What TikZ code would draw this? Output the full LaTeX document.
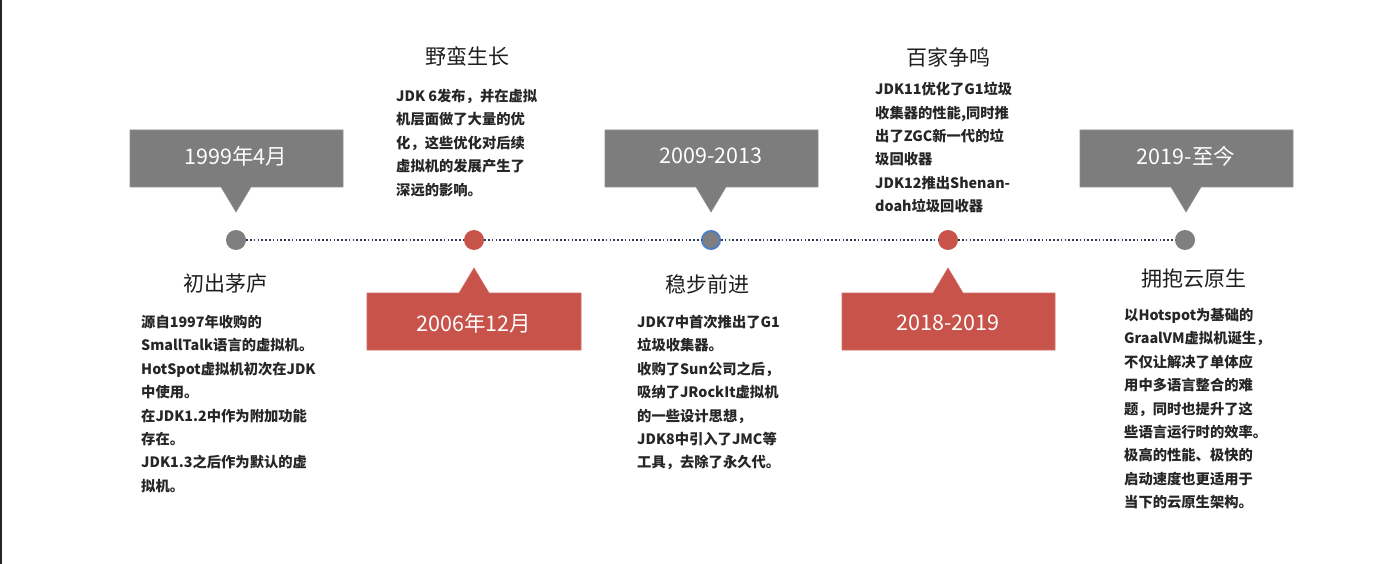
\documentclass[tikz,border=0pt]{standalone}
\usepackage{fontspec}
\newfontfamily\cjk{Noto Sans CJK SC}
\definecolor{boxgray}{HTML}{7D7D7D}
\definecolor{boxred}{HTML}{C8534A}
\definecolor{dotgray}{HTML}{7F7F7F}
\definecolor{ringblue}{HTML}{4F7FBF}
\definecolor{linenavy}{HTML}{2E3B55}
\definecolor{bodytext}{HTML}{262626}
\begin{document}
\begin{tikzpicture}[x=1pt,y=-1pt,
  body/.style={anchor=north west,inner sep=0pt,align=left,text=bodytext,font=\cjk\bfseries\fontsize{14.3}{23.4}\selectfont},
  ttl/.style={inner sep=0pt,text=black!88,font=\cjk\fontsize{21}{25}\selectfont},
  datelbl/.style={inner sep=0pt,text=white,font=\cjk\fontsize{21.5}{25}\selectfont},
  tdot/.style={circle,inner sep=0pt,minimum size=20pt},
  dotline/.style={draw=linenavy,line width=1.8pt,dash pattern=on 1.6pt off 2.2pt},
  graybox/.style={fill=boxgray,draw=boxgray!85!white,line width=0.6pt},
  redbox/.style={fill=boxred,draw=boxred!85!white,line width=0.6pt}]
\useasboundingbox (0,0) rectangle (1374,564);
\fill[white] (0,0) rectangle (1374,564);
\fill[black!85] (0,0) rectangle (2,564);

% timeline dots
\node[tdot,fill=dotgray] (d1) at (236,240) {};
\node[tdot,fill=boxred] (d2) at (474,240) {};
\node[tdot,fill=dotgray,draw=ringblue,line width=2pt,minimum size=18pt] (d3) at (711,240) {};
\node[tdot,fill=boxred] (d4) at (948,240) {};
\node[tdot,fill=dotgray] (d5) at (1185,240) {};
\draw[dotline] (d1) -- (d2);
\draw[dotline] (d2) -- (d3);
\draw[dotline] (d3) -- (d4);
\draw[dotline] (d4) -- (d5);

% gray callouts (above)
\path[graybox] (130,130) -- (343,130) -- (343,187) -- (251,187) -- (236,212) -- (221,187) -- (130,187) -- cycle;
\node[datelbl] (l1) at (236,156) {1999年4月};
\path[graybox] (605,130) -- (818,130) -- (818,187) -- (726,187) -- (711,212) -- (696,187) -- (605,187) -- cycle;
\node[datelbl] (l3) at (711,156) {2009-2013};
\path[graybox] (1080,130) -- (1293,130) -- (1293,187) -- (1201,187) -- (1186,212) -- (1171,187) -- (1080,187) -- cycle;
\node[datelbl] (l5) at (1186,156) {2019-至今};

% red callouts (below)
\path[redbox] (367,293) -- (459,293) -- (474,268) -- (489,293) -- (581,293) -- (581,350) -- (367,350) -- cycle;
\node[datelbl] (l2) at (474,323) {2006年12月};
\path[redbox] (842,293) -- (933,293) -- (948,268) -- (963,293) -- (1055,293) -- (1055,350) -- (842,350) -- cycle;
\node[datelbl] (l4) at (948,323) {2018-2019};

% titles
\node[ttl] (t1) at (225,284) {初出茅庐};
\node[ttl] (t2) at (467,56) {野蛮生长};
\node[ttl] (t3) at (707,284) {稳步前进};
\node[ttl] (t4) at (948,57) {百家争鸣};
\node[ttl] (t5) at (1194,279) {拥抱云原生};

% bodies
\node[body] (b1) at (141,315) {源自1997年收购的\\SmallTalk语言的虚拟机。\\HotSpot虚拟机初次在JDK\\中使用。\\在JDK1.2中作为附加功能\\存在。\\JDK1.3之后作为默认的虚\\拟机。};
\node[body] (b2) at (396,89) {JDK 6发布，并在虚拟\\机层面做了大量的优\\化，这些优化对后续\\虚拟机的发展产生了\\深远的影响。};
\node[body] (b3) at (637,315) {JDK7中首次推出了G1\\垃圾收集器。\\收购了Sun公司之后，\\吸纳了JRockIt虚拟机\\的一些设计思想，\\JDK8中引入了JMC等\\工具，去除了永久代。};
\node[body] (b4) at (875,82) {JDK11优化了G1垃圾\\收集器的性能,同时推\\出了ZGC新一代的垃\\圾回收器\\JDK12推出Shenan-\\doah垃圾回收器};
\node[body] (b5) at (1124,308) {以Hotspot为基础的\\GraalVM虚拟机诞生，\\不仅让解决了单体应\\用中多语言整合的难\\题，同时也提升了这\\些语言运行时的效率。\\极高的性能、极快的\\启动速度也更适用于\\当下的云原生架构。};
\end{tikzpicture}
\end{document}
